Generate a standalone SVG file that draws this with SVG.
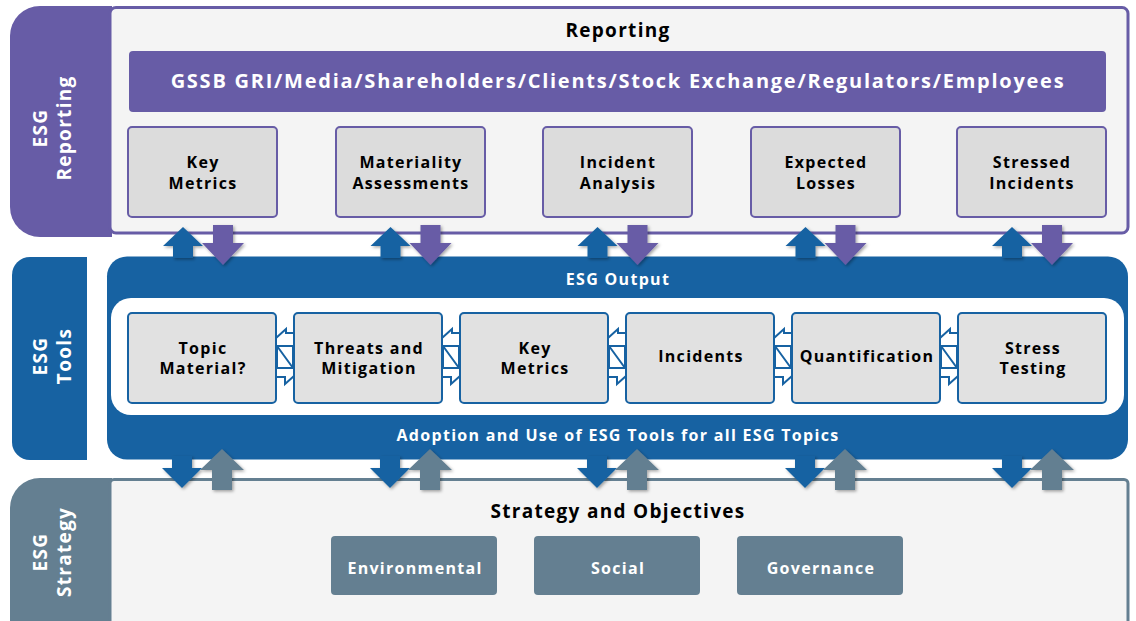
<svg xmlns="http://www.w3.org/2000/svg" width="1136" height="621" viewBox="0 0 1136 621">
  <defs>
    <filter id="shadow" x="-30%" y="-30%" width="160%" height="160%">
      <feDropShadow dx="1.5" dy="1.5" stdDeviation="1.5" flood-color="#000" flood-opacity="0.35"/>
    </filter>
    <style>
      text { font-family: "Open Sans", "Liberation Sans", sans-serif; font-weight: 700; text-anchor: middle; letter-spacing: 1.3px; }
      .title { font-size: 19px; fill: #000; }
      .white { fill: #fff; }
      .banner { font-size: 20px; letter-spacing: 1.75px; }
      .side { font-size: 19px; fill: #fff; }
      .rep-box { fill: #dcdcdc; stroke: #675ca6; stroke-width: 2; }
      .tool-box { fill: #e1e1e1; stroke: #1762a2; stroke-width: 2; }
      .strat-box { fill: #647f91; }
      .box-text { font-size: 16px; fill: #000; }
      .link { fill: #fff; stroke: #1762a2; stroke-width: 2; stroke-linejoin: miter; }
      .purple { fill: #675ca6; }
      .blue { fill: #1762a2; }
      .slate { fill: #647f91; }
    </style>
  </defs>

  <rect width="1136" height="621" fill="#fff"/>

  <!-- ESG Reporting band -->
  <g id="reporting-band">
    <path class="purple" d="M112,6 H40 A30,30 0 0 0 10,36 V207 A30,30 0 0 0 40,237 H112 Z"/>
    <rect x="110" y="7.5" width="1018" height="225.5" rx="6" fill="#f4f4f4" stroke="#675ca6" stroke-width="3"/>
    <text class="side" transform="translate(47,128) rotate(-90)">ESG</text>
    <text class="side" transform="translate(71,128) rotate(-90)">Reporting</text>
    <text class="title" x="618" y="37">Reporting</text>
  </g>

  <g id="stakeholders">
    <rect class="purple" x="129" y="51" width="977" height="61" rx="4"/>
    <text class="white banner" x="618" y="88">GSSB GRI/Media/Shareholders/Clients/Stock Exchange/Regulators/Employees</text>
  </g>

  <g id="rep-key-metrics">
    <rect class="rep-box" x="128" y="127" width="149" height="90" rx="4"/>
    <text class="box-text" x="203" y="168">Key</text>
    <text class="box-text" x="203" y="189">Metrics</text>
  </g>
  <g id="rep-materiality">
    <rect class="rep-box" x="336" y="127" width="149" height="90" rx="4"/>
    <text class="box-text" x="411" y="168">Materiality</text>
    <text class="box-text" x="411" y="189">Assessments</text>
  </g>
  <g id="rep-incident-analysis">
    <rect class="rep-box" x="543" y="127" width="149" height="90" rx="4"/>
    <text class="box-text" x="618" y="168">Incident</text>
    <text class="box-text" x="618" y="189">Analysis</text>
  </g>
  <g id="rep-expected-losses">
    <rect class="rep-box" x="751" y="127" width="149" height="90" rx="4"/>
    <text class="box-text" x="826" y="168">Expected</text>
    <text class="box-text" x="826" y="189">Losses</text>
  </g>
  <g id="rep-stressed-incidents">
    <rect class="rep-box" x="957" y="127" width="149" height="90" rx="4"/>
    <text class="box-text" x="1032" y="168">Stressed</text>
    <text class="box-text" x="1032" y="189">Incidents</text>
  </g>

  <!-- ESG Tools band -->
  <g id="tools-band">
    <path class="blue" d="M87,257 H30 A18,18 0 0 0 12,275 V442 A18,18 0 0 0 30,460 H87 Z"/>
    <rect class="blue" x="107" y="256.5" width="1021" height="203" rx="20"/>
    <rect x="111" y="298" width="1013" height="117" rx="20" fill="#fff"/>
    <text class="side" transform="translate(47,356) rotate(-90)">ESG</text>
    <text class="side" transform="translate(71,356) rotate(-90)">Tools</text>
    <text class="white" x="618" y="285" font-size="16">ESG Output</text>
    <text class="white" x="618" y="441" font-size="16">Adoption and Use of ESG Tools for all ESG Topics</text>
  </g>

  <!-- ESG Strategy band -->
  <g id="strategy-band">
    <path class="slate" d="M112,478 H40 A30,30 0 0 0 10,508 V621 H112 Z"/>
    <rect x="110" y="479.5" width="1018" height="150" rx="4" fill="#f4f4f4" stroke="#647f91" stroke-width="3"/>
    <text class="side" transform="translate(47,552) rotate(-90)">ESG</text>
    <text class="side" transform="translate(71,552) rotate(-90)">Strategy</text>
    <text class="title" x="618" y="518">Strategy and Objectives</text>
  </g>

  <g id="environmental">
    <rect class="strat-box" x="331" y="536" width="166" height="59" rx="4"/>
    <text class="white" x="415" y="574" font-size="16">Environmental</text>
  </g>
  <g id="social">
    <rect class="strat-box" x="534" y="536" width="166" height="59" rx="4"/>
    <text class="white" x="618" y="574" font-size="16">Social</text>
  </g>
  <g id="governance">
    <rect class="strat-box" x="737" y="536" width="166" height="59" rx="4"/>
    <text class="white" x="821" y="574" font-size="16">Governance</text>
  </g>

  <!-- Tool chain links between tool boxes -->
  <g id="connectors">
    <g id="tool-links">
      <g transform="translate(276,0)">
        <path class="link" d="M0,338 L10,329 V333 H18"/>
        <path class="link" d="M1,346 H17 V368 H1 Z M1,346 L17,368"/>
        <path class="link" d="M0,377 H9 V384 L18,376"/>
      </g>
      <g transform="translate(442,0)">
        <path class="link" d="M0,338 L10,329 V333 H18"/>
        <path class="link" d="M1,346 H17 V368 H1 Z M1,346 L17,368"/>
        <path class="link" d="M0,377 H9 V384 L18,376"/>
      </g>
      <g transform="translate(608,0)">
        <path class="link" d="M0,338 L10,329 V333 H18"/>
        <path class="link" d="M1,346 H17 V368 H1 Z M1,346 L17,368"/>
        <path class="link" d="M0,377 H9 V384 L18,376"/>
      </g>
      <g transform="translate(774,0)">
        <path class="link" d="M0,338 L10,329 V333 H18"/>
        <path class="link" d="M1,346 H17 V368 H1 Z M1,346 L17,368"/>
        <path class="link" d="M0,377 H9 V384 L18,376"/>
      </g>
      <g transform="translate(940,0)">
        <path class="link" d="M0,338 L10,329 V333 H18"/>
        <path class="link" d="M1,346 H17 V368 H1 Z M1,346 L17,368"/>
        <path class="link" d="M0,377 H9 V384 L18,376"/>
      </g>
    </g>

    <!-- Arrows between Reporting and Tools -->
    <g id="upper-arrows" filter="url(#shadow)">
      <path class="blue" d="M183,227 L203,246 H193 V258 H173 V246 H163 Z"/>
      <path class="purple" d="M213,225 H233 V243 H244 L223,265 L202,243 H213 Z"/>
      <path class="blue" d="M390.5,227 L410.5,246 H400.5 V258 H380.5 V246 H370.5 Z"/>
      <path class="purple" d="M420.5,225 H440.5 V243 H451.5 L430.5,265 L409.5,243 H420.5 Z"/>
      <path class="blue" d="M597.5,227 L617.5,246 H607.5 V258 H587.5 V246 H577.5 Z"/>
      <path class="purple" d="M627.5,225 H647.5 V243 H658.5 L637.5,265 L616.5,243 H627.5 Z"/>
      <path class="blue" d="M805.5,227 L825.5,246 H815.5 V258 H795.5 V246 H785.5 Z"/>
      <path class="purple" d="M835.5,225 H855.5 V243 H866.5 L845.5,265 L824.5,243 H835.5 Z"/>
      <path class="blue" d="M1012,227 L1032,246 H1022 V258 H1002 V246 H992 Z"/>
      <path class="purple" d="M1042,225 H1062 V243 H1073 L1052,265 L1031,243 H1042 Z"/>
    </g>

    <!-- Arrows between Tools and Strategy -->
    <g id="lower-arrows" filter="url(#shadow)">
      <path class="blue" d="M172,456 H192 V468 H202 L182,488 L162,468 H172 Z"/>
      <path class="slate" d="M222,449 L244,470 H232 V490 H212 V470 H200 Z"/>
      <path class="blue" d="M380,456 H400 V468 H410 L390,488 L370,468 H380 Z"/>
      <path class="slate" d="M430,449 L452,470 H440 V490 H420 V470 H408 Z"/>
      <path class="blue" d="M587,456 H607 V468 H617 L597,488 L577,468 H587 Z"/>
      <path class="slate" d="M637,449 L659,470 H647 V490 H627 V470 H615 Z"/>
      <path class="blue" d="M795,456 H815 V468 H825 L805,488 L785,468 H795 Z"/>
      <path class="slate" d="M845,449 L867,470 H855 V490 H835 V470 H823 Z"/>
      <path class="blue" d="M1002,456 H1022 V468 H1032 L1012,488 L992,468 H1002 Z"/>
      <path class="slate" d="M1052,449 L1074,470 H1062 V490 H1042 V470 H1030 Z"/>
    </g>
  </g>

  <!-- Tool boxes -->
  <g id="tool-topic-material">
    <rect class="tool-box" x="128" y="313" width="148" height="90" rx="4"/>
    <text class="box-text" x="203" y="354">Topic</text>
    <text class="box-text" x="203" y="374">Material?</text>
  </g>
  <g id="tool-threats">
    <rect class="tool-box" x="294" y="313" width="148" height="90" rx="4"/>
    <text class="box-text" x="369" y="354">Threats and</text>
    <text class="box-text" x="369" y="374">Mitigation</text>
  </g>
  <g id="tool-key-metrics">
    <rect class="tool-box" x="460" y="313" width="148" height="90" rx="4"/>
    <text class="box-text" x="535" y="354">Key</text>
    <text class="box-text" x="535" y="374">Metrics</text>
  </g>
  <g id="tool-incidents">
    <rect class="tool-box" x="626" y="313" width="148" height="90" rx="4"/>
    <text class="box-text" x="701" y="362">Incidents</text>
  </g>
  <g id="tool-quantification">
    <rect class="tool-box" x="792" y="313" width="148" height="90" rx="4"/>
    <text class="box-text" x="867" y="362">Quantification</text>
  </g>
  <g id="tool-stress-testing">
    <rect class="tool-box" x="958" y="313" width="148" height="90" rx="4"/>
    <text class="box-text" x="1033" y="354">Stress</text>
    <text class="box-text" x="1033" y="374">Testing</text>
  </g>
</svg>
